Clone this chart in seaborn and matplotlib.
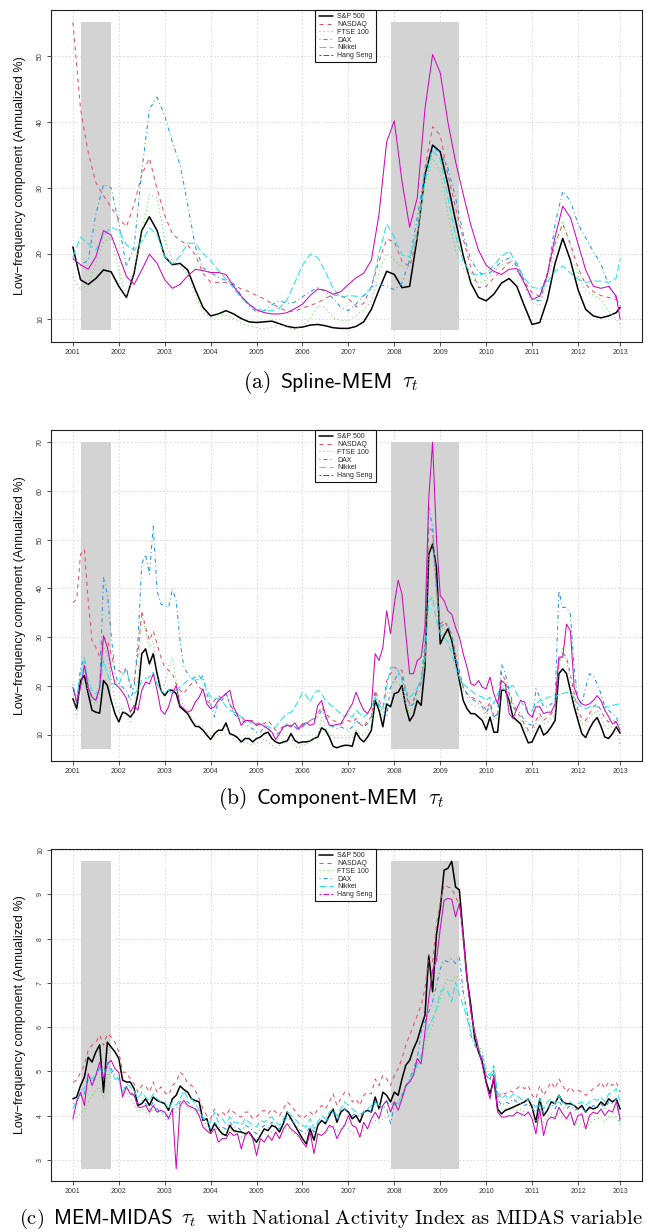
import numpy as np
import pandas as pd
import matplotlib
matplotlib.use("Agg")
import matplotlib.pyplot as plt
import seaborn as sns
from matplotlib.lines import Line2D
from matplotlib.offsetbox import TextArea, HPacker, AnchoredOffsetbox

# ---------------- data ----------------
index_names = ["S&P 500", "NASDAQ", "FTSE 100", "DAX", "Nikkei", "Hang Seng"]
x_tick_labels = [str(y) for y in range(2001, 2014)]
recession_start = ["2001-03-01", "2007-12-01"]
recession_end = ["2001-11-01", "2009-06-01"]

# (a) Spline-MEM, bi-monthly readings (Jan 2001 ... Nov 2012, plus Dec 2012)
dates_a = pd.date_range("2001-01-01", "2012-11-01", freq="2MS").append(pd.DatetimeIndex(["2012-12-01"]))
spline_sp500 = [21.0,16.0,15.3,16.2,17.5,17.2, 15.0,13.3,17.0,23.5,25.6,23.5, 19.5,18.3,18.5,17.5,14.5,11.8,
                10.5,10.8,11.3,10.8,10.1,9.6, 9.5,9.6,9.7,9.3,8.9,8.7, 8.8,9.1,9.2,9.0,8.7,8.6,
                8.6,8.9,9.6,11.5,14.5,17.3, 16.8,14.8,15.0,22.5,32.0,36.5, 35.5,30.5,25.0,19.7,15.5,13.3,
                12.8,13.8,15.5,16.2,15.0,12.0, 9.2,9.5,13.0,18.5,22.3,19.0, 14.5,11.5,10.5,10.2,10.5,11.0, 11.8]
spline_nasdaq = [55.2,42.0,35.4,30.8,28.8,27.0, 25.3,24.1,27.5,32.0,34.5,29.8, 25.8,23.0,22.0,21.3,19.8,17.0,
                 15.6,15.6,15.6,15.2,14.6,14.2, 13.6,13.1,12.4,11.7,11.2,11.2, 11.7,12.1,12.5,13.2,13.7,13.6,
                 13.1,11.9,12.4,15.0,18.8,22.2, 21.8,18.8,18.0,22.5,33.0,39.3, 38.0,32.0,27.0,22.2,17.8,14.8,
                 15.0,16.3,17.4,18.7,18.5,15.8, 14.0,13.5,17.1,21.5,24.5,21.5, 17.8,15.3,14.2,13.6,13.3,13.0, 12.5]
spline_ftse = [16.4,14.4,15.5,18.5,21.8,22.5, 17.5,13.0,17.5,23.0,29.0,28.5, 22.0,18.9,18.2,16.8,13.6,11.0,
               10.3,10.7,10.6,10.1,9.4,9.0, 8.7,8.5,8.8,9.2,8.8,8.4, 9.0,10.0,12.0,11.8,10.2,9.8,
               9.7,10.6,11.4,12.8,17.3,20.0, 19.0,17.9,19.0,23.0,30.5,34.5, 32.5,26.0,20.5,17.8,16.2,15.4,
               16.0,17.2,18.3,18.7,17.5,15.2, 12.5,12.0,15.8,20.5,25.0,21.0, 16.5,14.3,13.7,13.0,11.2,10.0, 9.2]
spline_dax = [19.5,18.2,19.0,26.0,30.5,30.0, 24.5,18.0,21.0,32.5,42.0,43.8, 41.0,37.0,33.5,27.5,21.0,17.8,
              17.1,16.4,15.9,15.4,13.6,12.0, 11.1,11.3,12.2,12.8,12.4,12.6, 13.4,14.2,14.8,14.2,13.2,11.8,
              11.3,12.3,13.6,14.9,15.3,15.0, 14.5,15.5,19.0,25.5,32.5,36.0, 35.5,33.0,28.5,23.0,19.0,17.2,
              16.6,17.6,18.8,19.3,18.1,15.5, 13.0,12.8,16.5,24.5,29.5,28.0, 24.5,22.4,20.3,18.4,15.2,13.2, 12.0]
spline_nikkei = [19.5,22.5,21.5,20.5,22.8,24.0, 23.5,21.3,20.5,21.8,23.9,22.9, 19.5,18.4,19.6,21.6,21.5,20.0,
                 18.9,17.4,16.1,14.7,13.2,12.2, 11.6,11.3,11.3,11.7,13.0,15.6, 18.2,19.9,19.4,17.2,14.7,13.3,
                 13.6,13.5,13.5,14.8,20.0,24.5, 22.5,19.8,19.5,23.5,31.0,35.6, 34.4,28.5,22.8,18.8,17.0,16.7,
                 17.0,18.2,19.6,20.4,18.5,16.2, 14.9,14.6,15.6,17.3,18.1,17.0, 16.1,15.6,15.8,15.8,15.6,16.3, 19.2]
spline_hangseng = [19.2,18.3,17.6,19.5,23.5,22.8, 19.7,16.5,15.3,17.5,19.9,18.5, 16.0,14.7,15.3,16.6,17.6,17.4,
                   17.1,17.1,16.8,15.0,13.5,12.3, 11.4,11.0,10.8,10.8,11.0,11.6, 12.3,13.6,14.6,14.4,13.8,14.2,
                   15.3,16.3,17.0,19.0,26.0,37.0, 40.2,31.0,24.0,28.5,42.0,50.3, 47.5,40.0,34.0,29.0,24.3,20.5,
                   18.2,17.3,16.8,17.6,17.7,15.5, 13.0,13.5,16.8,22.5,27.2,25.5, 21.5,17.5,15.0,14.7,15.0,13.5, 10.0]

# (b) Component-MEM, monthly readings Jan 2001 ... Dec 2012
dates_m = pd.date_range("2001-01-01", periods=144, freq="MS")
comp_sp500 = [17.4,15.3,21.1,22.1,18.4,15.0,14.6,14.4,21.1,20.1,17.0,14.3,
              12.6,14.6,14.3,13.6,14.6,18.4,26.6,27.6,24.5,26.6,22.5,19.1,
              18.0,19.1,19.1,18.4,15.7,15.0,14.3,12.9,11.7,11.6,10.9,9.9,
              9.0,10.2,10.9,10.9,12.4,10.2,9.9,9.4,8.5,9.2,9.2,8.5,
              9.2,9.5,10.2,10.5,9.2,8.5,8.2,8.5,8.7,10.2,8.8,8.3,
              8.5,8.5,8.7,9.2,9.5,11.4,10.9,9.5,7.6,7.3,7.6,7.8,
              7.8,7.6,10.5,9.2,8.5,9.5,10.9,17.0,15.0,11.6,16.3,15.7,
              18.4,18.7,20.1,15.7,12.8,14.0,17.0,16.0,23.8,47.0,49.1,44.3,
              28.6,30.3,31.7,29.3,25.2,21.1,17.0,15.3,14.3,14.3,13.6,12.9,
              11.0,13.6,10.5,10.5,19.1,19.1,17.0,13.6,12.9,12.2,10.2,8.3,
              8.5,10.2,11.9,9.9,10.5,11.6,12.9,22.5,23.5,22.5,19.1,15.7,
              12.9,10.2,9.4,11.2,12.6,13.5,11.7,9.5,9.2,10.2,11.6,10.3]
comp_nasdaq = [37.1,37.8,47.0,48.0,37.5,29.3,27.9,25.9,30.0,29.3,26.6,23.2,
               23.2,22.5,23.8,19.7,21.1,26.6,35.4,32.0,29.3,31.3,28.6,25.9,
               23.8,23.2,22.5,20.4,19.1,18.4,19.7,20.4,21.1,19.7,19.1,17.0,
               16.3,17.0,18.0,17.4,18.4,16.3,15.0,14.3,13.6,12.9,12.9,12.9,
               12.2,12.6,12.2,12.9,11.9,10.9,11.2,11.6,11.9,11.9,11.6,10.9,
               11.6,12.2,12.9,12.9,14.3,15.7,14.3,13.6,12.9,12.6,12.2,12.6,
               12.9,12.5,13.3,12.2,11.6,12.9,13.6,19.1,17.0,15.7,21.1,22.5,
               23.8,23.5,23.2,19.1,16.3,17.0,19.1,20.4,26.6,52.5,51.8,40.2,
               32.7,33.4,32.0,30.7,26.6,23.2,19.7,18.4,17.7,17.4,17.0,16.3,
               15.0,16.7,13.6,14.3,22.8,21.1,18.4,15.7,14.6,13.6,12.2,10.9,
               11.2,12.9,14.3,12.9,13.6,14.3,15.0,25.2,26.6,25.9,22.5,18.4,
               15.0,13.3,12.9,14.3,15.7,16.3,15.0,13.3,12.6,12.9,12.6,11.9]
comp_ftse = [18.4,13.3,19.7,21.1,19.1,17.0,16.3,18.4,27.9,26.6,21.8,17.0,
             14.3,15.7,13.6,12.6,15.0,21.8,34.7,31.3,27.9,29.3,23.2,19.7,
             20.4,23.8,25.9,21.1,17.7,15.7,15.0,13.6,12.2,11.9,11.6,10.5,
             9.9,9.5,10.2,10.5,11.9,10.2,9.2,8.5,8.2,8.5,8.2,7.8,
             8.5,8.2,9.2,8.5,7.8,7.3,7.8,8.2,8.5,9.2,7.8,7.1,
             8.2,7.8,8.8,9.2,9.9,13.6,11.6,10.2,9.5,9.2,9.5,9.2,
             9.5,9.2,10.9,10.2,9.9,10.9,11.9,17.7,15.7,13.6,18.4,19.7,
             21.1,20.4,19.7,16.3,14.3,15.0,18.4,19.1,25.9,48.4,49.7,38.8,
             31.3,32.0,30.7,28.6,25.2,21.8,19.1,17.7,16.3,16.0,15.7,15.0,
             13.6,15.7,12.9,13.6,21.1,19.7,17.0,14.6,13.6,12.9,11.6,10.2,
             10.5,12.2,13.6,12.2,12.6,13.3,14.3,23.8,27.9,25.2,21.1,17.0,
             14.3,12.2,11.9,13.6,14.3,15.0,13.6,11.9,11.2,11.6,11.2,7.8]
comp_dax = [20.4,16.3,23.8,25.9,19.7,17.7,17.0,19.7,42.2,38.8,30.7,22.5,
            20.4,19.7,19.1,17.0,19.7,29.3,45.0,47.0,42.9,52.8,39.5,36.8,
            36.4,36.1,39.9,37.5,29.3,23.8,22.5,21.5,21.8,21.1,22.1,18.4,
            16.3,13.6,17.0,17.0,18.7,16.3,14.3,13.6,12.9,12.6,11.6,11.2,
            10.5,10.5,11.6,11.2,10.5,9.9,10.5,11.2,12.2,11.9,11.6,10.9,
            11.9,12.2,12.9,13.3,13.6,15.0,13.6,11.9,11.6,11.2,11.6,11.2,
            10.9,11.6,12.9,12.2,11.6,12.2,13.6,18.4,15.7,15.0,13.6,19.7,
            21.1,22.5,21.8,18.4,15.7,16.3,19.7,21.1,28.6,56.6,52.5,40.2,
            32.0,32.7,32.7,30.0,25.9,22.5,19.7,18.4,17.4,17.0,16.3,15.7,
            14.3,16.3,13.6,14.3,24.5,22.5,19.1,16.3,15.0,14.3,12.9,12.2,
            11.9,19.4,17.7,15.7,15.7,16.3,17.0,39.5,36.1,36.1,34.7,23.8,
            17.0,16.3,19.7,22.5,22.1,20.4,18.4,15.7,15.0,14.3,13.6,11.6]
comp_nikkei = [19.1,17.7,22.5,25.2,21.1,19.1,18.4,19.1,25.2,22.5,20.4,20.4,
               20.1,22.5,23.2,20.4,18.4,19.1,21.1,21.5,21.8,22.8,20.4,19.1,
               18.4,19.1,18.4,19.1,19.7,20.4,21.1,21.5,21.1,22.1,21.1,19.1,
               17.7,17.4,17.4,17.0,15.7,15.0,14.6,14.3,13.6,13.3,12.6,12.2,
               11.9,12.2,11.9,11.6,11.2,11.6,12.6,13.6,14.3,14.6,15.7,17.0,
               18.7,18.0,16.7,18.4,19.1,18.4,17.0,16.3,15.7,15.0,14.3,13.6,
               14.3,13.6,15.0,14.3,13.6,14.3,15.7,17.7,16.3,15.0,19.7,23.8,
               23.8,23.2,21.1,19.1,17.7,18.4,19.7,20.4,25.2,37.5,38.2,33.4,
               30.7,30.0,29.0,26.6,23.8,21.8,20.4,19.7,19.1,18.4,18.0,17.7,
               17.0,17.7,16.3,18.4,19.7,19.1,19.7,20.1,18.4,17.0,15.7,14.3,
               15.0,16.3,17.0,17.0,17.7,17.7,17.4,18.4,18.4,18.7,18.4,17.7,
               16.3,15.7,15.3,15.7,16.0,15.7,15.3,15.7,15.7,16.0,16.2,16.3]
comp_hangseng = [19.7,16.7,19.7,24.2,19.7,17.7,17.0,19.7,30.3,27.9,23.8,20.4,
                 19.7,18.7,17.4,14.6,16.0,15.0,19.1,20.8,20.4,22.5,19.1,15.0,
                 14.2,15.7,18.4,20.1,16.0,15.3,14.6,15.0,16.7,17.7,19.4,16.3,
                 15.3,15.7,17.0,17.7,18.4,19.1,15.7,14.0,11.9,12.9,12.9,12.6,
                 11.9,12.2,11.7,11.2,10.5,9.0,10.2,11.6,11.9,11.6,12.4,11.2,
                 12.2,12.4,11.9,12.2,16.0,17.0,14.0,11.9,11.9,12.1,12.2,13.6,
                 15.0,16.3,18.7,16.7,15.0,14.3,15.7,26.6,25.2,27.9,35.4,30.7,
                 36.8,41.7,38.8,30.7,22.5,22.5,25.2,25.9,32.0,58.6,70.0,50.4,
                 38.5,37.5,35.4,34.7,32.0,30.0,26.6,23.8,20.4,20.1,21.1,19.7,
                 19.4,21.8,18.4,16.3,21.1,20.4,14.3,13.3,15.3,17.0,16.7,14.3,
                 13.6,15.7,15.7,14.3,14.6,14.6,16.3,25.9,25.9,32.7,31.3,19.7,
                 17.4,16.3,16.0,16.3,17.0,18.0,17.0,15.0,13.7,12.2,12.6,10.9]

# (c) MEM-MIDAS, monthly readings Jan 2001 ... Dec 2012
midas_sp500 = [4.38,4.42,4.68,4.87,5.32,5.21,5.44,5.60,4.53,5.66,5.55,5.44,
               5.29,4.80,4.76,4.76,4.61,4.23,4.27,4.38,4.23,4.42,4.34,4.31,
               4.27,4.12,4.38,4.46,4.67,4.59,4.53,4.38,4.34,4.31,3.89,3.93,
               3.63,3.82,3.70,3.59,3.55,3.78,3.66,3.64,3.63,3.59,3.63,3.51,
               3.40,3.55,3.70,3.66,3.78,3.74,3.63,3.82,4.08,3.93,3.78,3.63,
               3.48,3.36,3.70,3.44,3.78,3.89,3.82,4.00,4.15,3.85,4.08,4.15,
               4.08,3.93,4.00,3.85,4.08,4.12,4.08,4.42,4.15,4.53,4.46,4.31,
               4.53,4.46,4.83,5.14,5.25,5.51,5.70,6.00,6.27,7.63,6.80,8.08,
               8.68,9.55,9.59,9.75,9.17,9.10,8.08,7.10,6.49,5.74,5.44,5.21,
               4.76,4.49,4.83,4.15,4.04,4.12,4.15,4.19,4.23,4.27,4.31,4.38,
               4.19,3.85,4.38,4.00,4.12,4.31,4.27,4.46,4.31,4.27,4.27,4.23,
               4.15,4.23,4.08,4.19,4.15,4.19,4.31,4.23,4.38,4.31,4.38,4.15]
midas_nasdaq = [4.76,4.80,4.98,5.14,5.48,5.59,5.66,5.82,5.59,5.85,5.78,5.66,
                5.44,4.98,4.98,4.83,4.72,4.53,4.68,4.68,4.53,4.76,4.53,4.65,
                4.53,4.46,4.68,4.76,4.98,4.91,4.72,4.68,4.57,4.38,4.15,4.00,
                3.93,4.15,4.00,4.08,4.00,4.15,4.08,4.00,3.97,4.08,4.08,3.93,
                3.97,4.08,4.12,4.04,4.15,4.08,4.00,4.15,4.31,4.23,4.12,4.00,
                3.93,4.00,4.08,4.00,4.15,4.23,4.15,4.31,4.49,4.23,4.38,4.53,
                4.53,4.31,4.38,4.23,4.46,4.53,4.49,4.83,4.68,4.91,4.83,4.68,
                4.91,5.06,5.29,5.59,5.82,6.04,6.27,6.49,6.87,7.63,7.48,8.31,
                8.83,9.21,9.17,9.14,8.95,8.76,7.93,7.02,6.34,5.89,5.51,5.29,
                4.91,4.83,5.02,4.38,4.53,4.49,4.57,4.53,4.61,4.68,4.61,4.68,
                4.46,4.38,4.68,4.46,4.61,4.76,4.61,4.83,4.68,4.53,4.65,4.53,
                4.57,4.53,4.46,4.53,4.61,4.65,4.76,4.61,4.76,4.68,4.76,4.53]
midas_ftse = [3.89,3.97,4.04,4.15,4.31,4.46,4.57,4.65,4.38,4.91,4.98,4.83,
              4.76,4.53,4.53,4.38,4.27,4.08,4.15,4.08,4.04,4.15,4.08,4.04,
              4.00,3.89,4.00,4.08,4.19,4.27,4.19,4.15,4.08,3.97,3.82,3.70,
              3.63,3.74,3.63,3.63,3.59,3.70,3.63,3.59,3.51,3.63,3.59,3.51,
              3.44,3.55,3.59,3.55,3.63,3.59,3.51,3.63,3.74,3.66,3.59,3.51,
              3.44,3.40,3.55,3.44,3.55,3.63,3.59,3.70,3.78,3.63,3.70,3.82,
              3.70,3.59,3.63,3.59,3.66,3.74,3.78,3.89,3.85,3.93,3.97,4.08,
              4.23,4.31,4.46,4.68,4.76,4.91,5.06,5.36,5.59,5.82,6.04,6.34,
              6.65,6.95,7.10,7.02,7.17,7.10,6.72,6.34,6.04,5.82,5.59,5.44,
              5.10,4.83,5.06,4.31,4.15,4.15,4.19,4.15,4.12,4.15,4.08,4.08,
              4.04,3.85,4.04,3.85,3.97,4.04,3.97,4.08,3.97,3.89,3.97,3.85,
              3.82,3.78,3.70,3.82,3.89,3.93,3.97,3.85,4.00,3.93,4.00,3.78]
midas_dax = [4.27,4.34,4.46,4.49,4.83,4.76,4.87,5.10,4.83,5.10,5.06,4.91,
             4.83,4.49,4.65,4.53,4.46,4.27,4.34,4.27,4.15,4.31,4.15,4.08,
             4.04,3.97,4.15,4.15,4.31,4.38,4.31,4.23,4.15,4.08,3.93,3.78,
             3.70,3.85,3.74,3.74,3.70,3.85,3.74,3.74,3.66,3.78,3.74,3.66,
             3.59,3.70,3.78,3.74,3.85,3.78,3.70,3.85,3.97,3.89,3.82,3.70,
             3.63,3.59,3.78,3.63,3.82,3.89,3.85,3.97,4.08,3.89,4.04,4.15,
             4.08,4.00,4.04,3.97,4.08,4.15,4.08,4.31,4.15,4.23,4.15,3.82,
             4.23,4.31,4.46,4.68,4.83,5.06,5.29,5.89,6.12,6.34,6.57,6.95,
             7.32,7.51,7.48,7.55,7.44,7.59,6.80,6.34,5.82,5.59,5.44,5.29,
             4.91,4.80,4.98,4.38,4.23,4.31,4.27,4.38,4.31,4.27,4.23,4.27,
             4.15,4.08,4.27,4.04,4.15,4.27,4.15,4.34,4.19,4.15,4.23,4.12,
             4.15,4.19,4.08,4.15,4.23,4.19,4.27,4.15,4.31,4.27,4.38,3.85]
midas_nikkei = [4.15,4.34,4.57,4.61,4.91,4.83,4.91,5.14,4.91,5.21,4.98,4.83,
                4.83,4.53,4.72,4.65,4.57,4.38,4.53,4.42,4.34,4.49,4.38,4.31,
                4.31,4.15,4.31,4.23,4.38,4.57,4.38,4.38,4.27,4.12,3.97,3.85,
                3.85,4.08,3.85,3.93,3.82,3.97,3.85,3.85,3.78,3.93,3.85,3.78,
                3.74,3.89,3.85,3.93,3.97,3.85,3.78,3.93,4.08,4.00,3.93,3.82,
                3.78,3.74,3.93,3.70,3.85,4.00,3.93,4.08,4.15,4.00,4.15,4.31,
                4.23,4.15,4.08,4.04,4.08,4.15,4.23,4.31,4.23,4.27,4.31,4.23,
                4.31,4.23,4.38,4.61,4.83,4.98,5.14,5.36,5.74,6.04,6.19,6.42,
                6.80,6.87,6.80,6.57,7.02,6.72,6.49,6.19,5.89,5.66,5.51,5.36,
                4.98,4.91,5.14,4.53,4.38,4.46,4.38,4.49,4.46,4.38,4.34,4.38,
                4.27,4.19,4.38,4.15,4.31,4.38,4.27,4.46,4.31,4.23,4.31,4.23,
                4.27,4.31,4.23,4.31,4.38,4.34,4.42,4.31,4.49,4.53,4.61,4.31]
midas_hangseng = [3.93,4.31,4.53,4.23,4.95,4.68,4.91,5.21,4.83,5.17,5.25,5.06,
                  4.98,4.42,4.65,4.49,4.46,4.19,4.19,4.23,4.08,4.23,4.08,4.12,
                  4.08,3.93,4.15,2.80,4.23,4.34,4.23,4.19,4.15,4.00,3.74,3.66,
                  3.59,3.70,3.40,3.48,3.48,3.63,3.55,3.59,3.25,3.55,3.63,3.48,
                  3.10,3.48,3.40,3.55,3.44,3.63,3.48,3.70,3.82,3.70,3.63,3.55,
                  3.40,3.29,3.63,3.14,3.59,3.55,3.63,3.78,3.74,3.48,3.66,3.78,
                  4.00,3.78,3.74,3.51,3.85,3.70,3.93,4.08,3.93,4.23,4.34,4.08,
                  4.31,4.12,4.38,4.68,4.76,4.91,5.29,5.17,5.89,6.65,7.29,7.51,
                  8.23,8.87,8.91,8.89,8.49,8.80,8.08,7.10,6.34,5.89,5.51,5.14,
                  4.72,4.38,4.91,4.08,3.97,3.97,4.00,3.99,4.08,4.04,4.00,4.08,
                  3.93,3.59,4.15,3.55,3.89,3.97,3.93,4.19,4.04,3.93,4.08,3.78,
                  4.00,4.04,3.70,4.00,4.08,4.04,4.15,4.00,4.12,4.08,4.31,3.93]

# ---------------- style ----------------
sns.set_style("white")
plt.rcParams['font.family'] = ['Liberation Sans', 'DejaVu Sans']
plt.rcParams['mathtext.fontset'] = 'cm'
plt.rcParams['lines.scale_dashes'] = False

colors = ["#000000", "#DF536B", "#61D04F", "#2297E6", "#28E2E5", "#CD0BBC"]
plot_styles = ["-", (0, (2.9, 2.9)), (0, (0.7, 2.2)), (0, (0.7, 2.2, 2.9, 2.2)), (0, (5.0, 2.2)), "-"]
legend_styles = ["-", (0, (2.9, 2.9)), (0, (0.7, 2.2)), (0, (0.7, 2.2, 2.9, 2.2)), (0, (5.0, 2.2)),
                 (0, (1.4, 1.4, 4.3, 1.4))]
widths = [1.1, 0.75, 0.75, 0.75, 0.75, 0.75]


def decimal_year(d):
    return np.asarray(d.year + (d.month - 1) / 12.0, dtype=float)


t_a = decimal_year(dates_a)
t_m = decimal_year(dates_m)
rec_s = decimal_year(pd.DatetimeIndex(recession_start))
rec_e = decimal_year(pd.DatetimeIndex(recession_end))

W, H = 648, 1232
fig = plt.figure(figsize=(W / 100, H / 100), dpi=100)

panels = [
    dict(t=t_a, series=[spline_sp500, spline_nasdaq, spline_ftse, spline_dax, spline_nikkei, spline_hangseng],
         yticks=[10, 20, 30, 40, 50], box=(51, 10, 642, 342)),
    dict(t=t_m, series=[comp_sp500, comp_nasdaq, comp_ftse, comp_dax, comp_nikkei, comp_hangseng],
         yticks=[10, 20, 30, 40, 50, 60, 70], box=(51, 430, 642, 761)),
    dict(t=t_m, series=[midas_sp500, midas_nasdaq, midas_ftse, midas_dax, midas_nikkei, midas_hangseng],
         yticks=[3, 4, 5, 6, 7, 8, 9, 10], box=(51, 849, 642, 1181)),
]

t_first, t_last = t_m[0], t_m[-1]
xpad = 0.04 * (t_last - t_first)
xtick_pos = list(range(2001, 2013)) + [t_last]

for p in panels:
    l, tp, r, b = p["box"]
    ax = fig.add_axes([l / W, 1 - b / H, (r - l) / W, (b - tp) / H])
    allv = np.concatenate([np.asarray(s, float) for s in p["series"]])
    lo, hi = allv.min(), allv.max()
    ypad = 0.04 * (hi - lo)
    ax.set_xlim(t_first - xpad, t_last + xpad)
    ax.set_ylim(lo - ypad, hi + ypad)
    # recession shading
    for s, e in zip(rec_s, rec_e):
        ax.fill_between([s, e], [lo, lo], [hi, hi], color="#D3D3D3", linewidth=0, zorder=1)
    # series
    for vals, c, ls, lw in zip(p["series"], colors, plot_styles, widths):
        sns.lineplot(x=p["t"], y=np.asarray(vals, float), ax=ax, color=c, linestyle=ls,
                     linewidth=lw, estimator=None, sort=False, legend=False, zorder=3)
    ax.set_xticks(xtick_pos)
    ax.set_xticklabels(x_tick_labels)
    ax.set_yticks(p["yticks"])
    ax.set_yticklabels([str(v) for v in p["yticks"]])
    ax.grid(True, color="#D3D3D3", linestyle=(0, (1.0, 1.6)), linewidth=0.7)
    ax.set_axisbelow(True)
    ax.tick_params(axis="both", direction="out", length=3, width=0.6, labelsize=5,
                   colors="#333333", pad=2, bottom=True, left=True)
    ax.tick_params(axis="y", labelrotation=90)
    for lab in ax.get_yticklabels():
        lab.set_verticalalignment("center")
    for sp in ax.spines.values():
        sp.set_visible(True)
        sp.set_color("#222222")
        sp.set_linewidth(0.8)
    ax.set_xlabel("")
    ax.set_ylabel("Low\u2212frequency component (Annualized %)", fontsize=9, color="#111111")
    ax.yaxis.set_label_coords(-25 / (r - l), 0.5)
    handles = [Line2D([], [], color=c, linestyle=ls, linewidth=lw)
               for c, ls, lw in zip(colors, legend_styles, widths)]
    leg = ax.legend(handles, index_names, loc="upper left", bbox_to_anchor=(0.447, 1.0),
                    borderaxespad=0, fontsize=5, frameon=True, fancybox=False, edgecolor="#111111",
                    framealpha=1, handlelength=2.0, handletextpad=0.7, labelspacing=0.1,
                    borderpad=0.5)
    leg.get_frame().set_linewidth(0.8)
    leg.set_zorder(5)


def caption(parts, ypix, size=15.5, sep=7):
    boxes = []
    for txt, fam in parts:
        boxes.append(TextArea(txt, textprops=dict(fontsize=size, family=fam, color="black")))
    hp = HPacker(children=boxes, align="baseline", pad=0, sep=sep)
    ab = AnchoredOffsetbox(loc="center", child=hp, pad=0, borderpad=0, frameon=False,
                           bbox_to_anchor=(331 / W, 1 - ypix / H), bbox_transform=fig.transFigure)
    fig.add_artist(ab)


caption([(r"$\mathrm{(a)}$", "DejaVu Sans"), ("Spline-MEM", "cmss10"), (r"$\tau_t$", "DejaVu Sans")], 382)
caption([(r"$\mathrm{(b)}$", "DejaVu Sans"), ("Component-MEM", "cmss10"), (r"$\tau_t$", "DejaVu Sans")], 799)
caption([(r"$\mathrm{(c)}$", "DejaVu Sans"), ("MEM-MIDAS", "cmss10"), (r"$\tau_t$", "DejaVu Sans"),
         (r"$\mathrm{with\ National\ Activity\ Index\ as\ MIDAS\ variable}$", "DejaVu Sans")], 1219,
        size=14.8, sep=6.5)

fig.savefig("out.png", dpi=100, facecolor="white")
